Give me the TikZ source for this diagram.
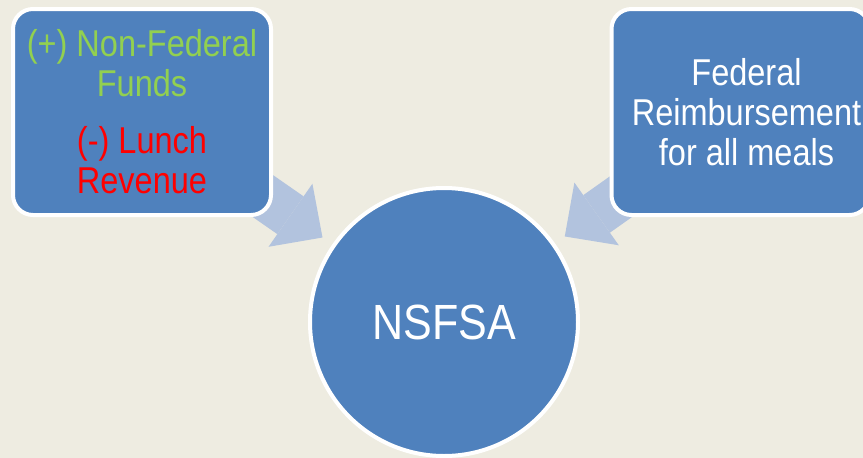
\documentclass[tikz,border=0pt]{standalone}
\usepackage{fontspec}
\setmainfont{Liberation Sans}
\usepackage{graphicx}
\usetikzlibrary{arrows.meta}

\definecolor{slidetan}{HTML}{EEECE1}
\definecolor{boxblue}{HTML}{4F81BD}
\definecolor{arrowblue}{HTML}{B2C3DE}
\definecolor{fundgreen}{HTML}{92D050}
\definecolor{revred}{HTML}{FF0000}

\pgfdeclarelayer{bg}
\pgfsetlayers{bg,main}

\newcommand{\vstretch}[1]{\scalebox{1}[1.15]{#1}}

\begin{document}
\begin{tikzpicture}[x=1pt, y=-1pt,
    box/.style={draw=white, line width=4pt, fill=boxblue, rounded corners=20pt,
        minimum width=258pt, minimum height=206pt, inner sep=0pt, align=center,
        text=white, font=\fontsize{32.5}{40}\selectfont},
    hubnode/.style={circle, draw=white, line width=4pt, fill=boxblue,
        minimum size=268pt, inner sep=0pt, text=white, font=\fontsize{43}{50}\selectfont},
    flow/.style={draw=arrowblue, line width=46pt,
        -{Triangle[width=76.8pt, length=39pt, line width=0pt]}, shorten >=12pt}]
    % Background
    \begin{pgfonlayer}{bg}
        \fill[slidetan] (0,0) rectangle (863,458);
    \end{pgfonlayer}
    \useasboundingbox (0,0) rectangle (863,458);

    % Nodes
    \node[box] (funds) at (142,112) {%
        \textcolor{fundgreen}{\vstretch{(+) Non-Federal}}\\
        \textcolor{fundgreen}{\vstretch{Funds}}\\[17pt]
        \textcolor{revred}{\vstretch{(-) Lunch}}\\
        \textcolor{revred}{\vstretch{Revenue}}};
    \node[box, label={[xshift=6pt, align=center, text=white,
        font=\fontsize{32.5}{40}\selectfont]center:{\vstretch{Federal}\\
        \vstretch{Reimbursement}\\ \vstretch{for all meals}}}] (fedreimb) at (740.5,112) {};
    \node[hubnode] (nsfsa) at (444,322) {\vstretch{NSFSA}};

    % Connections
    \begin{pgfonlayer}{bg}
        \draw[flow] (funds.center) -- (nsfsa);
        \draw[flow] (fedreimb.center) -- (nsfsa);
    \end{pgfonlayer}
\end{tikzpicture}
\end{document}
